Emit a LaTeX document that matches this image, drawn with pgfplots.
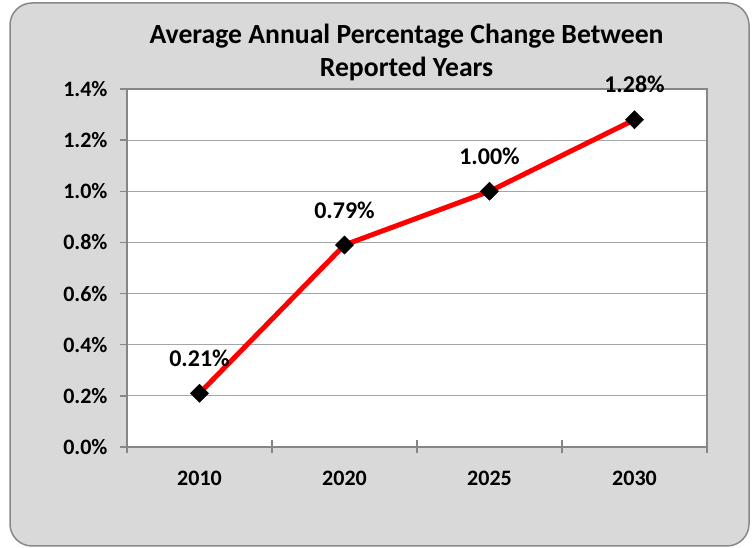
\documentclass[border=0pt]{standalone}
\usepackage{pgfplots}
\pgfplotsset{compat=1.18}
\usepackage{fontspec}
\setmainfont{Carlito}
\definecolor{bggray}{HTML}{D9D9D9}
\definecolor{framegray}{HTML}{888888}
\definecolor{axisgray}{HTML}{868686}
\definecolor{gridgray}{HTML}{A6A6A6}
\begin{document}
\begin{tikzpicture}
\fill[white] (0pt,0pt) rectangle (755pt,548pt);
\draw[framegray, line width=1.5pt, fill=bggray, rounded corners=22pt] (10pt,2pt) rectangle (749pt,545pt);
\begin{axis}[
  at={(127pt,101pt)}, anchor=south west,
  scale only axis, width=580pt, height=358pt,
  xmin=-0.5, xmax=3.5, ymin=0, ymax=1.4,
  axis background/.style={fill=white},
  /pgf/number format/assume math mode=true,
  font=\fontsize{22}{26}\selectfont\bfseries,
  xtick={0,1,2,3},
  xticklabels={2010,2020,2025,2030},
  minor xtick={-0.5,0.5,1.5,2.5,3.5},
  ytick={0,0.2,...,1.4},
  yticklabel={\pgfmathprintnumber[fixed,fixed zerofill,precision=1]{\tick}\%},
  tick align=outside,
  major tick length=7pt,
  minor tick length=13pt,
  major x tick style={draw=none},
  minor x tick style={yshift=6.5pt},
  tick style={axisgray, line width=1.3pt},
  xtick pos=bottom, ytick pos=left,
  axis line style={axisgray, line width=1.5pt},
  ymajorgrids,
  grid style={gridgray, line width=0.9pt},
  yticklabel style={xshift=-9pt},
  xticklabel style={yshift=-14pt},
  title={Average Annual Percentage Change Between\\Reported Years},
  title style={at={(axis description cs:0.482,1)}, anchor=base, align=center, inner sep=0pt, yshift=6pt, font=\fontsize{27.7}{33}\selectfont\bfseries},
  nodes near coords={\pgfmathprintnumber[fixed,fixed zerofill,precision=2]{\pgfplotspointmeta}\%},
  every node near coord/.append style={anchor=center, yshift=35pt, black, font=\fontsize{24}{28}\selectfont\bfseries},
  clip=false,
]
\addplot[red, line width=5pt, mark=square*, mark size=6.4pt,
  mark options={black, fill=black, rotate=45, line width=0.5pt}]
  coordinates {(0,0.21) (1,0.79) (2,1.00) (3,1.28)};
\end{axis}
\end{tikzpicture}
\end{document}
